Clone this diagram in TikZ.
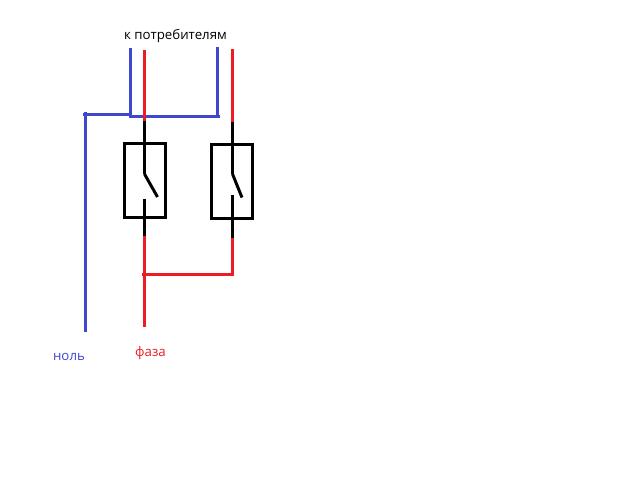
\documentclass[tikz,border=0pt]{standalone}
\usepackage{fontspec}
\setmainfont{Open Sans}
\definecolor{nullblue}{RGB}{63,72,204}
\definecolor{phasered}{RGB}{237,28,36}
\begin{document}
\begin{tikzpicture}[x=0.02cm, y=-0.02cm,
    switchbox/.style={rectangle, draw, line width=1.7pt, inner sep=0pt,
      minimum width=0.83cm, minimum height=1.49cm},
    label/.style={inner sep=0pt, font=\fontsize{7.55pt}{9pt}\selectfont},
    wire/.style={line width=1.7pt}]
    \useasboundingbox (0,0) rectangle (640,480);

    % labels
    \node [label] (load) at (175.5,36.5) {к потребителям};
    \node [label, text=nullblue] (nulllabel) at (69,357) {ноль};
    \node [label, text=phasered] (phaselabel) at (150.5,353.5) {фаза};

    % switches
    \node [switchbox] (sw1) at (145,180.5) {};
    \node [switchbox] (sw2) at (232,181.5) {};

    % end points of the wires
    \coordinate (n0) at (85.5,331.5); \coordinate (n1) at (85.5,112);
    \coordinate (n2) at (83,114.5); \coordinate (n3) at (130.5,114.5);
    \coordinate (n4) at (130.5,48); \coordinate (n5) at (129,116.5);
    \coordinate (n6) at (219.5,116.5); \coordinate (n7) at (217.5,117);
    \coordinate (n8) at (217.5,47);

    \coordinate (p1) at (144.5,50); \coordinate (p2) at (144.5,121);
    \coordinate (p3) at (144.5,174); \coordinate (p4) at (157.5,197);
    \coordinate (p5) at (144.5,199); \coordinate (p6) at (144.5,236);
    \coordinate (p7) at (144.5,327); \coordinate (p8) at (142,274.5);

    \coordinate (r1) at (232.5,49); \coordinate (r2) at (232.5,122);
    \coordinate (r3) at (232.5,174); \coordinate (r4) at (242,197.5);
    \coordinate (r5) at (232.5,195); \coordinate (r6) at (232.5,238);
    \coordinate (r7) at (232.5,276); \coordinate (r8) at (233.8,274.5);

    \begin{scope}[wire, nullblue]
      \draw (n0) -- (n1);
      \draw (n2) -- (n3);
      \draw (n4) -- (n3 |- n5);
      \draw (n5) -- (n6);
      \draw (n7) -- (n8);
    \end{scope}

    \begin{scope}[wire, phasered]
      \draw (p1) -- (p2);
      \draw (r1) -- (r2);
      \draw (p6) -- (p7);
      \draw (r6) -- (r7);
      \draw (p8) -- (r8);
    \end{scope}

    \begin{scope}[wire, black]
      \draw (p2) -- (p3);
      \draw (r2) -- (r3);
      \draw (p3) -- (p4);
      \draw (r3) -- (r4);
      \draw (p5) -- (p6);
      \draw (r5) -- (r6);
    \end{scope}
\end{tikzpicture}
\end{document}
